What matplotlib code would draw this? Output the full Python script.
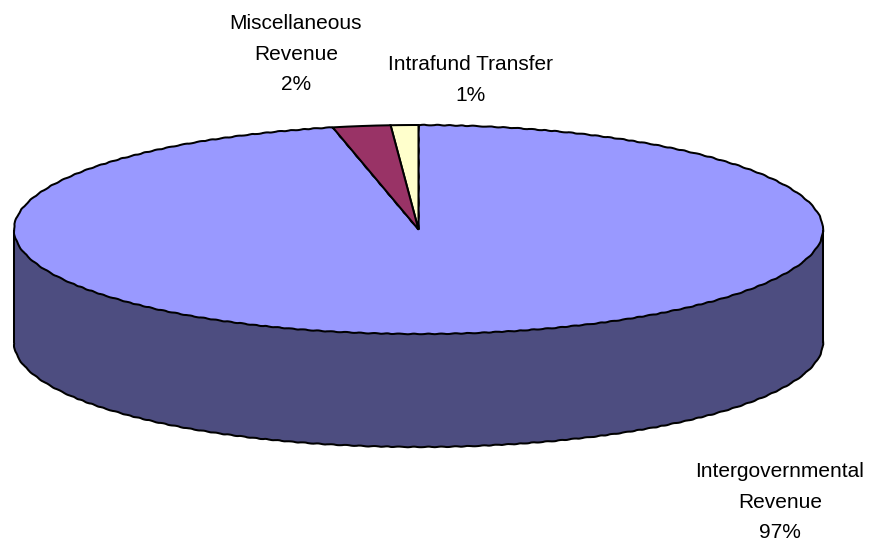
import matplotlib
matplotlib.use("Agg")
import matplotlib.pyplot as plt
from matplotlib.patches import Rectangle

# Revenue shares in percent, drawn counter-clockwise from twelve o'clock
categories = ["Intrafund Transfer", "Miscellaneous\nRevenue", "Intergovernmental\nRevenue"]
shares = [1.1, 2.3, 96.6]
top_colors = ["#FFFFCC", "#993366", "#9999FF"]
wall_colors = ["#80805F", "#4D1A33", "#4D4D80"]

WIDTH, HEIGHT = 870, 550
CX, CY, RX, RY, DEPTH = 418.5, 229.5, 404.5, 104.5, 113.0

plt.rcParams["font.family"] = ["Liberation Sans", "DejaVu Sans"]

fig = plt.figure(figsize=(WIDTH / 100, HEIGHT / 100), dpi=100, facecolor="white")
ax = fig.add_axes([0, 0, 1, 1])
edge = dict(edgecolor="black", linewidth=1.45)
d = DEPTH / RY

# Lower rim of the disc, then the wall joining it to the top face
rim, _ = ax.pie(shares, colors=wall_colors, startangle=90, center=(0, -d), wedgeprops=edge)
ax.add_patch(Rectangle((-1, -d), 2, d, facecolor=wall_colors[2], edgecolor="none"))
# The wall also hides the point where the rim's wedges meet
ax.add_patch(Rectangle((-0.1, -d - 0.05), 0.2, 0.1, facecolor=wall_colors[2], edgecolor="none"))
ax.plot([-1, -1], [-d, 0], color="black", lw=1.45, solid_capstyle="butt")
ax.plot([1, 1], [-d, 0], color="black", lw=1.45, solid_capstyle="butt")

# Top face; the two narrow slices sit above the large one so their straight edges stay clean
top, _ = ax.pie(shares, colors=top_colors, startangle=90, center=(0, 0), wedgeprops=edge)
for wedge in top[:2]:
    wedge.set_zorder(3)

# The long curved outlines have a slightly stepped, low-resolution look
for wedge in (rim[2], top[2]):
    wedge.set_sketch_params(scale=0.3, length=14, randomness=2)

# One data unit is one radius, stretched into an ellipse on each axis
ax.set_xlim(-CX / RX, (WIDTH - CX) / RX)
ax.set_ylim((CY - HEIGHT) / RY, CY / RY)
ax.set_aspect("auto")
ax.axis("off")

# Labels: (centre x, centre y) in figure pixels
label_centres = [(471, 80), (296, 54), (780, 502)]
for name, share, (px, py) in zip(categories, shares, label_centres):
    fig.text(px / WIDTH, 1 - py / HEIGHT, f"{name}\n{share:.0f}%",
             ha="center", va="center", ma="center", color="black",
             fontsize=15, linespacing=1.75)

fig.savefig("out.png", dpi=100, facecolor="white")
